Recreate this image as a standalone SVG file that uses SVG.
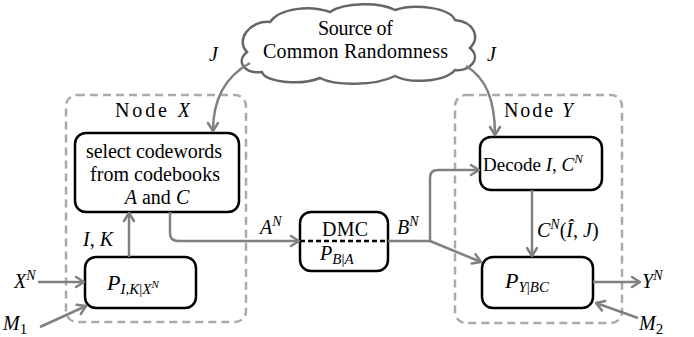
<svg xmlns="http://www.w3.org/2000/svg" width="694" height="337" viewBox="0 0 694 337">
<defs>
<marker id="ah" markerWidth="14" markerHeight="14" refX="11" refY="7" orient="auto" markerUnits="userSpaceOnUse">
<path d="M3,2 L11,7 L3,12" fill="none" stroke="#808080" stroke-width="2.5" stroke-linecap="round" stroke-linejoin="round"/>
</marker>
</defs>
<rect width="694" height="337" fill="#fff"/>

<g id="nodeX-group">
<rect x="66" y="95" width="180" height="227" rx="11" fill="none" stroke="#aaaaaa" stroke-width="2.5" stroke-dasharray="8,5"/>
<text font-family="Liberation Serif" font-size="20" x="115" y="117" textLength="75">Node <tspan font-style="italic">X</tspan></text>
</g>
<g id="nodeY-group">
<rect x="455" y="95" width="167" height="228" rx="11" fill="none" stroke="#aaaaaa" stroke-width="2.5" stroke-dasharray="8,5"/>
<text font-family="Liberation Serif" font-size="20" x="504" y="117" textLength="69">Node <tspan font-style="italic">Y</tspan></text>
</g>

<g id="cloud">
<path d="M247,52 C235,40 250,20 270,22 C280,8 310,5 330,12 C345,2 380,2 395,10 C415,3 450,8 455,20 C475,22 480,38 470,48 C482,58 470,72 455,70 C445,82 410,84 395,76 C375,86 335,86 320,78 C300,86 265,82 262,72 C245,74 235,62 247,52 Z" fill="#fff" stroke="#666" stroke-width="2.5"/>
<text font-family="Liberation Serif" font-size="20" x="318" y="35" textLength="75">Source of</text>
<text font-family="Liberation Serif" font-size="20" x="263" y="58" textLength="185">Common Randomness</text>
</g>

<g id="select">
<rect x="75" y="133" width="164" height="79" rx="11" fill="#fff" stroke="#000" stroke-width="2.5"/>
<text font-family="Liberation Serif" font-size="20" x="86" y="158" textLength="136">select codewords</text>
<text font-family="Liberation Serif" font-size="20" x="90" y="181" textLength="130">from codebooks</text>
<text font-family="Liberation Serif" font-size="20" x="157" y="204" text-anchor="middle"><tspan font-style="italic">A</tspan> and <tspan font-style="italic">C</tspan></text>
</g>

<g id="encoder">
<rect x="85" y="257" width="111" height="51" rx="11" fill="#fff" stroke="#000" stroke-width="2.5"/>
<text font-family="Liberation Serif" font-size="22" font-style="italic" x="107" y="290">P<tspan font-size="15" dy="4">I,K</tspan><tspan font-size="15" font-style="normal">|</tspan><tspan font-size="15">X</tspan><tspan font-size="11" dy="-6">N</tspan></text>
</g>

<g id="dmc">
<rect x="300" y="212" width="88" height="59" rx="11" fill="#fff" stroke="#000" stroke-width="2.5"/>
<line x1="300" y1="241" x2="388" y2="241" stroke="#000" stroke-width="2.5" stroke-dasharray="5,3"/>
<text font-family="Liberation Serif" font-size="20" x="322" y="236" textLength="46">DMC</text>
<text font-family="Liberation Serif" font-size="20" font-style="italic" x="320" y="260">P<tspan font-size="15" dy="4">B</tspan><tspan font-size="15" font-style="normal">|</tspan><tspan font-size="15">A</tspan></text>
</g>

<g id="decode">
<rect x="480" y="137" width="122" height="53" rx="11" fill="#fff" stroke="#000" stroke-width="2.5"/>
<text font-family="Liberation Serif" font-size="19" x="483" y="171">Decode <tspan font-style="italic">I</tspan>, <tspan font-style="italic">C</tspan><tspan font-style="italic" font-size="13" dy="-8">N</tspan></text>
</g>

<g id="decoder">
<rect x="482" y="257" width="111" height="51" rx="11" fill="#fff" stroke="#000" stroke-width="2.5"/>
<text font-family="Liberation Serif" font-size="22" font-style="italic" x="505" y="288">P<tspan font-size="15" dy="4">Y</tspan><tspan font-size="15" font-style="normal">|</tspan><tspan font-size="15">BC</tspan></text>
</g>

<g id="connectors" fill="none" stroke="#808080" stroke-width="2.5">
<path d="M250,63 C228,75 213,95 213,131" marker-end="url(#ah)"/>
<path d="M466,66 C486,78 495,100 495,135" marker-end="url(#ah)"/>
<path d="M129,257 L129,213" marker-end="url(#ah)"/>
<path d="M38,282 L84,282" marker-end="url(#ah)"/>
<path d="M40,327 L86,306" marker-end="url(#ah)"/>
<path d="M170,212 L170,233 Q170,241 178,241 L299,241" marker-end="url(#ah)"/>
<path d="M388,241 L430,241"/>
<path d="M430,241 L430,178 Q430,170 438,170 L479,170" marker-end="url(#ah)"/>
<path d="M430,241 L481,262" marker-end="url(#ah)"/>
<path d="M532,190 L532,256" marker-end="url(#ah)"/>
<path d="M593,282 L640,282" marker-end="url(#ah)"/>
<path d="M638,318 L596,303" marker-end="url(#ah)"/>
</g>

<g id="labels">
<text font-family="Liberation Serif" font-size="20" font-style="italic" x="209" y="61">J</text>
<text font-family="Liberation Serif" font-size="20" font-style="italic" x="487" y="61">J</text>
<text font-family="Liberation Serif" font-size="20" x="83" y="246"><tspan font-style="italic">I</tspan>, <tspan font-style="italic">K</tspan></text>
<text font-family="Liberation Serif" font-size="20" font-style="italic" x="14" y="288">X<tspan font-size="14" dy="-8">N</tspan></text>
<text font-family="Liberation Serif" font-size="20" x="3" y="330"><tspan font-style="italic">M</tspan><tspan font-size="15" dy="4">1</tspan></text>
<text font-family="Liberation Serif" font-size="20" font-style="italic" x="260" y="234">A<tspan font-size="14" dy="-8">N</tspan></text>
<text font-family="Liberation Serif" font-size="20" font-style="italic" x="397" y="234">B<tspan font-size="14" dy="-8">N</tspan></text>
<text font-family="Liberation Serif" font-size="20" x="537" y="237"><tspan font-style="italic">C</tspan><tspan font-style="italic" font-size="14" dy="-8">N</tspan><tspan dy="8">(</tspan><tspan font-style="italic">&#206;</tspan>, <tspan font-style="italic">J</tspan>)</text>
<text font-family="Liberation Serif" font-size="20" font-style="italic" x="642" y="288">Y<tspan font-size="14" dy="-8">N</tspan></text>
<text font-family="Liberation Serif" font-size="20" x="639" y="330"><tspan font-style="italic">M</tspan><tspan font-size="15" dy="4">2</tspan></text>
</g>
</svg>
